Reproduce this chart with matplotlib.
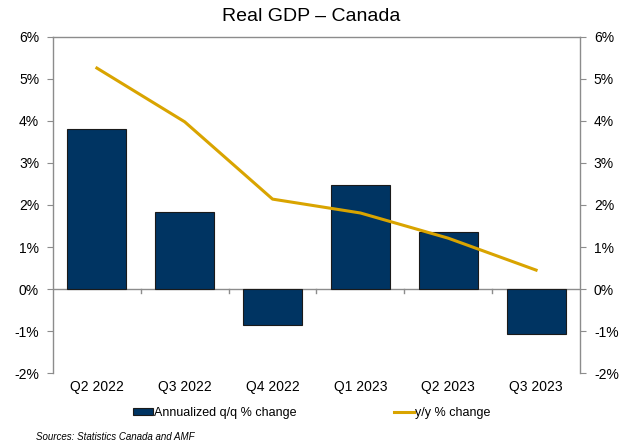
import numpy as np
import matplotlib
matplotlib.use('Agg')
from matplotlib import pyplot as plt
from matplotlib.ticker import FuncFormatter

quarters = ['Q2 2022', 'Q3 2022', 'Q4 2022', 'Q1 2023', 'Q2 2023', 'Q3 2023']
qq_change = [3.81, 1.84, -0.86, 2.47, 1.36, -1.07]
yy_change = [5.26, 3.98, 2.14, 1.81, 1.21, 0.45]
y_ticks = [-2, -1, 0, 1, 2, 3, 4, 5, 6]

plt.rcParams['font.family'] = ['Liberation Sans', 'DejaVu Sans']
grey = '#8c8c8c'
navy = '#003462'
gold = '#d9a400'

fig = plt.figure(figsize=(6.23, 4.43), dpi=100)
ax = fig.add_axes([0.085, 0.158, 0.846, 0.7585])
x = np.arange(len(quarters))

bars = ax.bar(x, qq_change, width=0.67, color=navy, edgecolor='#1a1a1a', linewidth=0.8,
              label='Annualized q/q % change', zorder=2)
line, = ax.plot(x, yy_change, color=gold, linewidth=2.2, label='y/y % change', zorder=3)

ax.set_xlim(-0.5, len(quarters) - 0.5)
ax.set_ylim(-2, 6)
ax.set_yticks(y_ticks)
pct = FuncFormatter(lambda v, p: '%d%%' % v)
ax.yaxis.set_major_formatter(pct)
ax.tick_params(axis='y', direction='out', length=4, color=grey, labelsize=10, pad=6)

# ligne du zero avec separateurs de categories
ax.axhline(0, color=grey, linewidth=1, zorder=1)
for b in np.arange(0.5, len(quarters) - 0.5, 1):
    ax.plot([b, b], [0, -0.1], color=grey, linewidth=1, zorder=1)
ax.set_xticks(x)
ax.set_xticklabels(quarters)
ax.tick_params(axis='x', length=0, labelsize=10, pad=5)

for s in ['left', 'right', 'top']:
    ax.spines[s].set_color(grey)
    ax.spines[s].set_linewidth(1)
ax.spines['bottom'].set_visible(False)

ax2 = ax.twinx()
ax2.set_ylim(-2, 6)
ax2.set_yticks(y_ticks)
ax2.yaxis.set_major_formatter(pct)
ax2.tick_params(axis='y', direction='out', length=4, color=grey, labelsize=10, pad=6)
for s in ax2.spines.values():
    s.set_visible(False)

fig.text(0.5, 0.962, 'Real GDP – Canada', ha='center', va='center', fontsize=14)

fig.legend([bars, line], ['Annualized q/q % change', 'y/y % change'], loc='center',
           bbox_to_anchor=(0.5, 0.068), ncol=2, frameon=False,
           fontsize=9, columnspacing=7.8, handlelength=1.6, handletextpad=0.1,
           handleheight=0.6)

fig.text(0.058, 0.014, 'Sources: Statistics Canada and AMF', fontsize=7, style='italic',
         ha='left', va='center')

fig.savefig('out.png', dpi=100)
